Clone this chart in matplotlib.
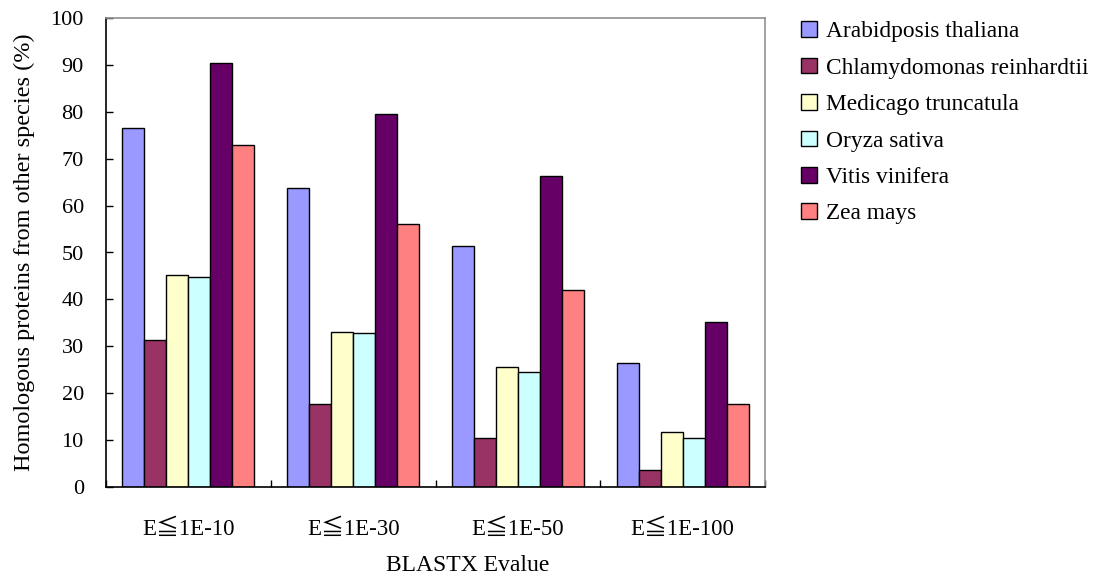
import numpy as np
import matplotlib
matplotlib.use('Agg')
import matplotlib.pyplot as plt

plt.rcParams['font.family'] = ['Liberation Serif', 'Noto Sans CJK SC', 'DejaVu Serif']

# BLASTX e-value cut-offs on the x axis
cutoffs = ['E≦1E-10', 'E≦1E-30', 'E≦1E-50', 'E≦1E-100']

species = ['Arabidposis thaliana', 'Chlamydomonas reinhardtii', 'Medicago truncatula',
           'Oryza sativa', 'Vitis vinifera', 'Zea mays']

# percent of homologous proteins per species, one value per cut-off
arabidopsis = [76.5, 63.8, 51.4, 26.4]
chlamydomonas = [31.3, 17.8, 10.5, 3.6]
medicago = [45.1, 33.0, 25.6, 11.8]
oryza = [44.8, 32.8, 24.5, 10.5]
vitis = [90.5, 79.5, 66.4, 35.2]
zea = [72.9, 56.1, 42.1, 17.8]

colors = ['#9999FF', '#993366', '#FFFFCC', '#CCFFFF', '#660066', '#FF8080']

series = [arabidopsis, chlamydomonas, medicago, oryza, vitis, zea]

fig = plt.figure(figsize=(11.03, 5.8), dpi=100)
ax = fig.add_axes([106 / 1103, 93 / 580, 659 / 1103, 469 / 580])

x = np.arange(len(cutoffs))
n = len(series)
w = 1.0 / (n + 1.5)
for i, (vals, c, name) in enumerate(zip(series, colors, species)):
    ax.bar(x + (i - (n - 1) / 2) * w, vals, width=w, color=c,
           edgecolor='black', linewidth=1.0, label=name)

ax.set_xlim(-0.5, len(cutoffs) - 0.5)
ax.set_ylim(0, 100)
ax.set_yticks(range(0, 101, 10))
ax.set_xticks(x)
ax.set_xticklabels(cutoffs)
ax.set_xticks(np.arange(-0.5, len(cutoffs), 1.0), minor=True)

ax.tick_params(axis='y', direction='in', length=5, width=1, labelsize=16, pad=16)
ax.tick_params(axis='x', which='major', length=0, labelsize=16.5, pad=23)
ax.tick_params(axis='x', which='minor', direction='in', length=5, width=1)

for s in ['left', 'bottom']:
    ax.spines[s].set_color('black')
    ax.spines[s].set_linewidth(1.2)
for s in ['top', 'right']:
    ax.spines[s].set_color('#909090')
    ax.spines[s].set_linewidth(1.2)

ax.set_ylabel('Homologous proteins from other species (%)', fontsize=17.5)
ax.yaxis.set_label_coords(-71 / 659, 0.5)
ax.set_xlabel('BLASTX Evalue', fontsize=17)
ax.xaxis.set_label_coords(0.549, -68 / 469)

fig.legend(loc='upper left', bbox_to_anchor=(792 / 1103, 1 - 12 / 580),
           frameon=False, fontsize=16.8, handlelength=0.65, handleheight=0.65,
           handletextpad=0.4, labelspacing=0.66, borderaxespad=0)

fig.savefig('out.png', dpi=100)
